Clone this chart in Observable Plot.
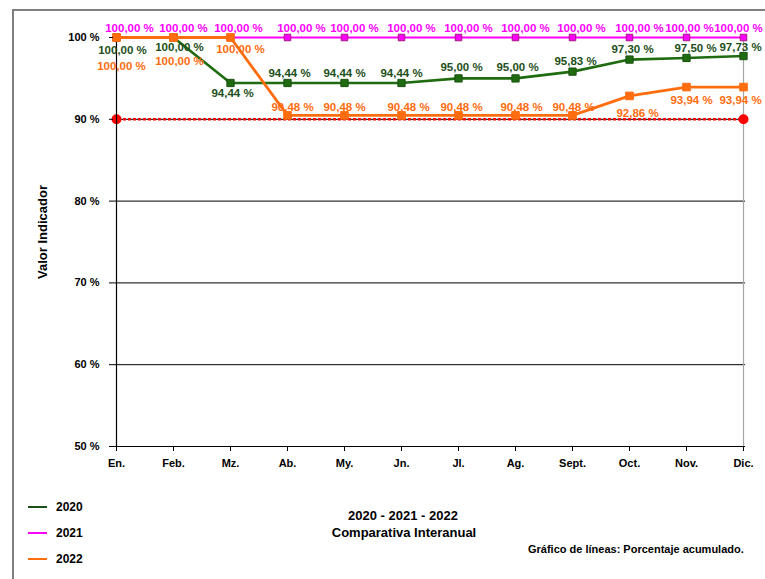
<!DOCTYPE html>
<html><head><meta charset="utf-8">
<script src="https://cdn.jsdelivr.net/npm/d3@7"></script>
<script src="https://cdn.jsdelivr.net/npm/@observablehq/plot@0.6"></script>
<style>
body{margin:0;background:#fff;font-family:"Liberation Sans",Arial,sans-serif;font-weight:bold;color:#000;}
#wrap{position:relative;width:765px;height:579px;overflow:hidden;background:#fff;}
#frame{position:absolute;left:12px;top:9px;width:900px;height:800px;border-left:2px solid #7f7f7f;border-top:2px solid #7f7f7f;}
#chart{position:absolute;left:0;top:0;}
.abs{position:absolute;white-space:nowrap;}
#ylab{left:42px;top:232px;font-size:13px;transform:translate(-50%,-50%) rotate(-90deg);}
.leg{position:absolute;left:28px;height:20px;line-height:20px;font-size:12px;}
.leg span.sw{display:inline-block;width:19px;height:2.5px;vertical-align:middle;margin-right:9px;position:relative;top:-1px;}
#t1{left:403px;top:508px;font-size:13px;transform:translateX(-50%);line-height:16px;}
#t2{left:404px;top:525px;font-size:13px;transform:translateX(-50%);line-height:16px;}
#cap{left:528px;top:541px;font-size:11px;line-height:16px;}
</style>
</head>
<body>
<div id="wrap">
  <div id="frame"></div>
  <div id="chart"></div>
  <div class="abs" id="ylab">Valor Indicador</div>
  <div id="legend"></div>
  <div class="abs" id="t1">2020 - 2021 - 2022</div>
  <div class="abs" id="t2">Comparativa Interanual</div>
  <div class="abs" id="cap">Gráfico de líneas: Porcentaje acumulado.</div>
</div>
<script>
// ---- data ----
const months = ["En.","Feb.","Mz.","Ab.","My.","Jn.","Jl.","Ag.","Sept.","Oct.","Nov.","Dic."];
const years = ["2020","2021","2022"];
const v2020 = [100,100,94.44,94.44,94.44,94.44,95.00,95.00,95.83,97.30,97.50,97.73];
const v2021 = [100,100,100,100,100,100,100,100,100,100,100,100];
const v2022 = [100,100,100,90.48,90.48,90.48,90.48,90.48,90.48,92.86,93.94,93.94];
const meta = 90;
const yTicks = [50,60,70,80,90,100];
const gridTicks = [60,70,80,90];

// ---- label placement (layout, pixels) ----
const lab2020 = {dx:[6,6,2,2,0,0,3,2,3,3,9,-3], dy:[13,10,10,-10,-10,-10,-11,-11,-10,-10,-10,-9]};
const lab2021 = {dx:[13,10,8,14,10,10,10,10,9,10,3,-5], dy:[-9,-9,-9,-9,-9,-9,-9,-9,-9,-9,-9,-9]};
const lab2022 = {dx:[5,6,10,5,0,7,3,6,1,8,5,-3], dy:[29,24,12,-8,-8,-8,-8,-8,-8,17,13,13]};

const colors = {"2020":"#1f6b10","2021":"#ff00ff","2022":"#ff6d0e"};
const labelColors = {"2020":"#1c4f1a","2021":"#ff00ff","2022":"#ff6d0e"};
const dotStroke = {"2020":"#1a5210","2021":"#a3197f","2022":"#ff6d0e"};

const fmt = v => v.toFixed(2).replace(".", ",") + " %";
const rows = (vals) => months.map((m,i) => ({month:m, value:vals[i], label:fmt(vals[i])}));
const series = [
  {year:"2020", data:rows(v2020), lab:lab2020, w:2.6, r:4.1},
  {year:"2021", data:rows(v2021), lab:lab2021, w:2.2, r:3.7},
  {year:"2022", data:rows(v2022), lab:lab2022, w:2.8, r:4.3}
];

const marks = [];
// gridlines
marks.push(Plot.ruleY(gridTicks, {stroke:"#000", strokeWidth:1}));
// right border
marks.push(Plot.ruleX([{m:months[months.length-1], a:50, b:100}], {x:"m", y1:"a", y2:"b", stroke:"#a6a6a6", strokeWidth:1.2}));
// meta line
marks.push(Plot.ruleY([meta], {stroke:"#ff0000", strokeWidth:2.5, strokeDasharray:"3,2"}));
marks.push(Plot.dot([{m:months[0], v:meta},{m:months[months.length-1], v:meta}], {x:"m", y:"v", r:5, fill:"#ff0000"}));
// axes lines
marks.push(Plot.ruleY([50], {stroke:"#000", strokeWidth:1.2}));
marks.push(Plot.ruleX([{m:months[0], a:50, b:100}], {x:"m", y1:"a", y2:"b", stroke:"#000", strokeWidth:1.2}));
// series
for (const s of series) {
  marks.push(Plot.line(s.data, {x:"month", y:"value", stroke:colors[s.year], strokeWidth:s.w}));
  marks.push(Plot.dot(s.data, {x:"month", y:"value", symbol:"square", r:s.r, fill:colors[s.year], stroke:dotStroke[s.year], strokeWidth:1}));
}
// labels
for (const s of series) {
  s.data.forEach((d,i) => {
    marks.push(Plot.text([d], {x:"month", y:"value", text:"label", dx:s.lab.dx[i], dy:s.lab.dy[i],
      fill:labelColors[s.year], fontSize:11.5, fontWeight:"bold"}));
  });
}
// axes
marks.push(Plot.axisY({ticks:yTicks, tickFormat:d => d + " %", tickSize:4, tickPadding:10, label:null, fontSize:11, fontWeight:"bold"}));
marks.push(Plot.axisX({tickSize:5, tickPadding:8, label:null, fontSize:11, fontWeight:"bold"}));

const chart = Plot.plot({
  width:765, height:480,
  marginLeft:113, marginRight:20, marginTop:37, marginBottom:34,
  x:{type:"point", domain:months, padding:0},
  y:{domain:[50,100]},
  style:{fontFamily:"'Liberation Sans', Arial, sans-serif", background:"transparent", color:"#000", overflow:"visible"},
  marks
});
document.getElementById("chart").appendChild(chart);

// legend
const legend = document.getElementById("legend");
const legY = [497, 523, 549];
years.forEach((y,i) => {
  const div = document.createElement("div");
  div.className = "leg";
  div.style.top = legY[i] + "px";
  const sw = document.createElement("span");
  sw.className = "sw";
  sw.style.background = y === "2020" ? "#1c4f1a" : colors[y];
  div.appendChild(sw);
  div.appendChild(document.createTextNode(y));
  legend.appendChild(div);
});
</script>
</body></html>
